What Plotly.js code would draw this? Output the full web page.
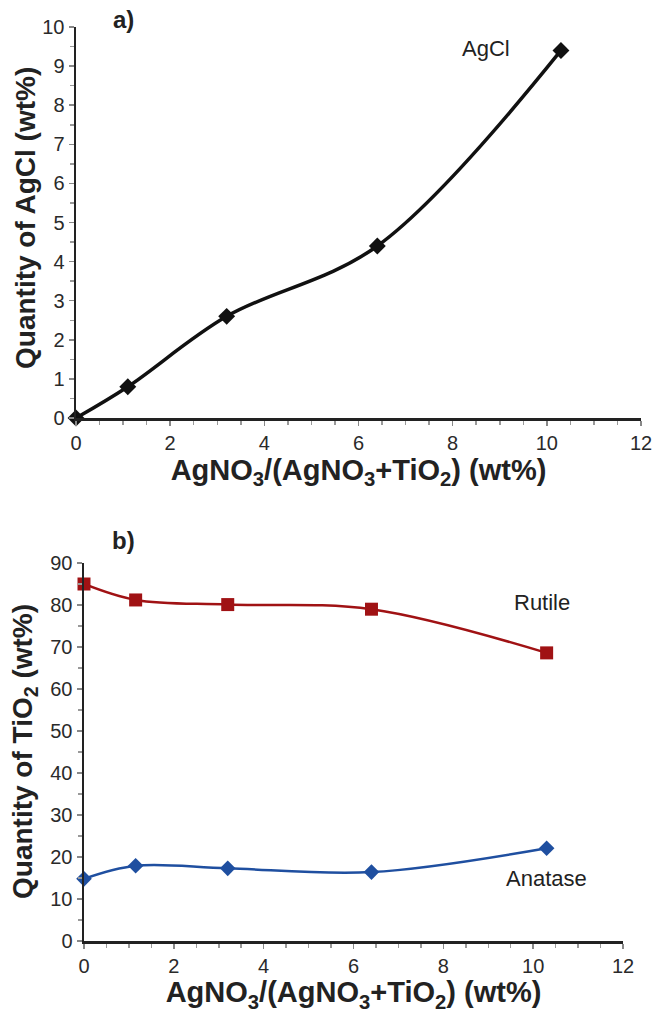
<!DOCTYPE html>
<html><head><meta charset="utf-8">
<script src="https://cdn.plot.ly/plotly-3.0.1.min.js"></script>
<style>body{margin:0;padding:0;background:#fff}#chart{width:654px;height:1013px}</style>
</head><body><div id="chart"></div>
<script>
// Panel a) AgCl
const agclX = [0, 1.1, 3.2, 6.4, 10.3];
const agclY = [0, 0.8, 2.6, 4.4, 9.4];
// Panel b) TiO2 phases
const tio2X = [0, 1.15, 3.2, 6.4, 10.3];
const rutileY = [85, 81.2, 80.1, 79, 68.6];
const anataseY = [14.8, 17.9, 17.3, 16.4, 22.1];

const FONT = '"Liberation Sans", Arial, sans-serif';
const tickFont = {family: FONT, size: 20, color: '#2a2a2a'};
const xTitleFont = {family: FONT, size: 29, color: '#222', weight: 'bold'};
const xTitle = '<b>AgNO<sub>3</sub>/(AgNO<sub>3</sub>+TiO<sub>2</sub>) (wt%)</b>';

function axisBase(extra) {
  return Object.assign({
    showline: true, linecolor: '#222', linewidth: 2.5, mirror: false,
    showgrid: false, zeroline: false,
    ticks: 'outside', ticklen: 5, tickwidth: 1.5, tickcolor: '#888',
    tickfont: tickFont, fixedrange: true
  }, extra);
}

const traces = [
  {x: agclX, y: agclY, xaxis: 'x', yaxis: 'y', mode: 'lines+markers',
   line: {color: '#111', width: 3.5, shape: 'spline', smoothing: 1},
   marker: {symbol: 'diamond', size: 13, color: '#111'}, name: 'AgCl', cliponaxis: false},
  {x: tio2X, y: rutileY, xaxis: 'x2', yaxis: 'y2', mode: 'lines+markers',
   line: {color: '#A01214', width: 2.5, shape: 'spline', smoothing: 1},
   marker: {symbol: 'square', size: 13, color: '#A01214'}, name: 'Rutile', cliponaxis: false},
  {x: tio2X, y: anataseY, xaxis: 'x2', yaxis: 'y2', mode: 'lines+markers',
   line: {color: '#1F4FA0', width: 2.5, shape: 'spline', smoothing: 1},
   marker: {symbol: 'diamond', size: 12, color: '#1F4FA0'}, name: 'Anatase', cliponaxis: false}
];

const layout = {
  width: 654, height: 1013,
  margin: {l: 0, r: 0, t: 0, b: 0},
  paper_bgcolor: '#fff', plot_bgcolor: '#fff',
  showlegend: false,
  xaxis: axisBase({domain: [76/654, 641/654], anchor: 'y', range: [0, 12], dtick: 2,
    minor: {dtick: 0.5, ticks: 'outside', ticklen: 4, tickcolor: '#999'},
    title: {text: xTitle, font: xTitleFont, standoff: 7}}),
  yaxis: axisBase({domain: [1 - 418/1013, 1 - 27/1013], anchor: 'x', range: [0, 10], dtick: 1,
    minor: {dtick: 0.5, ticks: 'outside', ticklen: 4, tickcolor: '#999'}}),
  xaxis2: axisBase({domain: [84/654, 623/654], anchor: 'y2', range: [0, 12], dtick: 2,
    minor: {dtick: 0.5, ticks: 'outside', ticklen: 4, tickcolor: '#999'},
    title: {text: xTitle, font: xTitleFont, standoff: 3}}),
  yaxis2: axisBase({domain: [1 - 941/1013, 1 - 563/1013], anchor: 'x2', range: [0, 90], dtick: 10,
    minor: {dtick: 5, ticks: 'outside', ticklen: 4, tickcolor: '#999'}}),
  annotations: [
    {text: '<b>Quantity of AgCl (wt%)</b>', xref: 'paper', yref: 'paper', x: 26/654, y: 1 - 218/1013,
     xanchor: 'center', yanchor: 'middle',
     textangle: -90, showarrow: false, font: {family: FONT, size: 28, color: '#222'}},
    {text: '<b>Quantity of TiO<sub>2</sub> (wt%)</b>', xref: 'paper', yref: 'paper', x: 24/654, y: 1 - 752/1013,
     xanchor: 'center', yanchor: 'middle',
     textangle: -90, showarrow: false, font: {family: FONT, size: 28, color: '#222'}},
    {text: '<b>a)</b>', xref: 'paper', yref: 'paper', x: 123/654, y: 1 - 20/1013, showarrow: false,
     xanchor: 'center', yanchor: 'middle', font: {family: FONT, size: 24, color: '#222'}},
    {text: '<b>b)</b>', xref: 'paper', yref: 'paper', x: 123/654, y: 1 - 540/1013, showarrow: false,
     xanchor: 'center', yanchor: 'middle', font: {family: FONT, size: 24, color: '#222'}},
    {text: 'AgCl', xref: 'x', yref: 'y', x: 8.7, y: 9.45, showarrow: false,
     font: {family: FONT, size: 22, color: '#222'}},
    {text: 'Rutile', xref: 'x2', yref: 'y2', x: 10.2, y: 80.6, showarrow: false,
     font: {family: FONT, size: 22, color: '#222'}},
    {text: 'Anatase', xref: 'x2', yref: 'y2', x: 10.3, y: 14.8, showarrow: false,
     font: {family: FONT, size: 22, color: '#222'}}
  ]
};

Plotly.newPlot('chart', traces, layout, {staticPlot: true, displayModeBar: false});
</script>
</body></html>
